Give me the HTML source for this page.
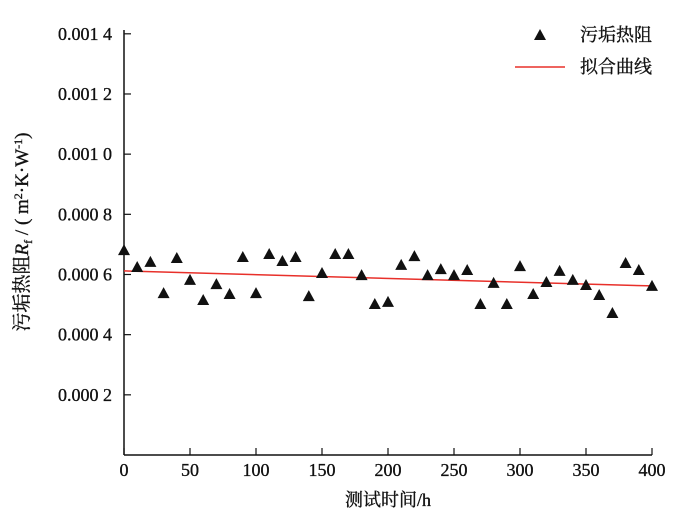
<!DOCTYPE html>
<html><head><meta charset="utf-8"><style>
body{margin:0;background:#fff}
svg text{font-family:"Liberation Serif","Noto Serif CJK SC",serif;fill:#111;stroke:#111;stroke-width:0.35}
</style></head><body>
<svg id="c" width="700" height="519" viewBox="0 0 700 519" xmlns="http://www.w3.org/2000/svg"></svg>
<script>
const times=[0,10,20,30,40,50,60,70,80,90,100,110,120,130,140,150,160,170,180,190,200,210,220,230,240,250,260,270,280,290,300,310,320,330,340,350,360,370,380,390,400];
const resistance=[0.000681,0.000625,0.000642,0.000538,0.000655,0.000582,0.000515,0.000568,0.000535,0.000658,0.000538,0.000668,0.000645,0.000658,0.000528,0.000605,0.000668,0.000668,0.000598,0.000502,0.000509,0.000632,0.000661,0.000598,0.000618,0.000598,0.000615,0.000502,0.000572,0.000502,0.000628,0.000535,0.000575,0.000612,0.000582,0.000565,0.000532,0.000472,0.000638,0.000615,0.000562];
const fitX=[0,400];
const fitY=[0.000612,0.000562];
const xTicks=[0,50,100,150,200,250,300,350,400];
const yTicks=[0.0002,0.0004,0.0006,0.0008,0.0010,0.0012,0.0014];
const yTickLabels=["0.000 2","0.000 4","0.000 6","0.000 8","0.001 0","0.001 2","0.001 4"];
const NS="http://www.w3.org/2000/svg";
const svg=document.getElementById('c');
const X=v=>124+v*(652-124)/400;
const Y=v=>455-v*300.85/0.001;
function mk(t,a,txt){const e=document.createElementNS(NS,t);for(const k in a)e.setAttribute(k,a[k]);if(txt!==undefined)e.textContent=txt;svg.appendChild(e);return e;}
let e;
e=mk('line',{x1:124,y1:455,x2:652,y2:455,stroke:'#111','stroke-width':1.5});


e=mk('line',{x1:124,y1:30,x2:124,y2:455,stroke:'#111','stroke-width':1.5});


xTicks.forEach(t=>{
 e=mk('line',{x1:X(t),y1:455,x2:X(t),y2:448,stroke:'#111','stroke-width':1.2});
 
 
 e=mk('text',{x:X(t),y:476,'text-anchor':'middle','font-size':18},String(t));
 
 
});
yTicks.forEach((t,i)=>{
 e=mk('line',{x1:124,y1:Y(t),x2:131,y2:Y(t),stroke:'#111','stroke-width':1.2});
 
 
 e=mk('text',{x:112,y:Y(t)+6,'text-anchor':'end','font-size':18},yTickLabels[i]);
 
 
});
e=mk('text',{x:388,y:506,'text-anchor':'middle','font-size':18},'测试时间/h');


e=mk('text',{transform:'translate(28,232) rotate(-90)','text-anchor':'middle','font-size':19},'');
e.innerHTML='污垢热阻<tspan font-style="italic">R</tspan><tspan font-size="12" dy="4">f</tspan><tspan dy="-4"> / ( m</tspan><tspan font-size="12" dy="-6">2</tspan><tspan dy="6">·K·W</tspan><tspan font-size="12" dy="-6">-1</tspan><tspan dy="6">)</tspan>';


e=mk('line',{x1:X(fitX[0]),y1:Y(fitY[0]),x2:X(fitX[1]),y2:Y(fitY[1]),stroke:'#e8302a','stroke-width':1.5});


function tri(cx,cy){return `${cx},${cy-6} ${cx-6},${cy+5} ${cx+6},${cy+5}`;}
times.forEach((t,i)=>{
 e=mk('polygon',{points:tri(X(t),Y(resistance[i])),fill:'#111'});
 
 
});
e=mk('polygon',{points:tri(540,35),fill:'#111'});


e=mk('text',{x:580,y:41,'font-size':18},'污垢热阻');


e=mk('line',{x1:515,y1:67,x2:565,y2:67,stroke:'#e8302a','stroke-width':1.5});


e=mk('text',{x:580,y:73,'font-size':18},'拟合曲线');


</script>
</body></html>
